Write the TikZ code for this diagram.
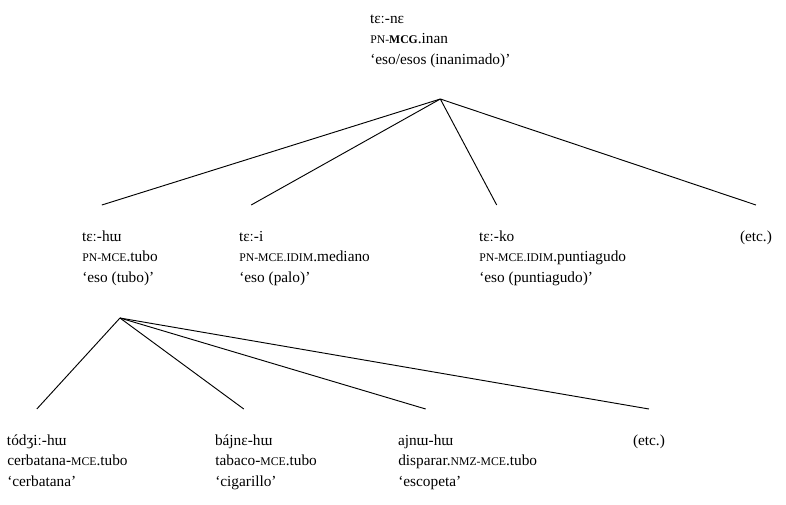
\documentclass[tikz,border=0pt]{standalone}
\usepackage{fontspec}
\setmainfont{Liberation Serif}
\usetikzlibrary{calc}
\newcommand{\gsc}[1]{{\fontsize{8.8}{8.8}\selectfont #1}}
\newcommand{\gscb}[1]{{\fontsize{8.8}{8.8}\selectfont\bfseries #1}}

\begin{document}
\begin{tikzpicture}[x=0.75pt, y=-0.75pt,
    txt/.style={anchor=base west, inner sep=0pt, font=\fontsize{11.5}{13}\selectfont},
    word/.style={txt, text height=8pt, text depth=2pt, outer xsep=0pt, outer ysep=19pt},
    branch/.style={line width=0.7pt}]
    \useasboundingbox (0,0) rectangle (786,504);

    % mother
    \node [word] (tene) at (370,23) {tɛː-nɛ};
    \node [txt] (tene-g) at (370,43.5) {\gsc{PN-}\gscb{MCG}.inan};
    \node [txt] (tene-t) at (370,64) {‘eso/esos (inanimado)’};
    \coordinate (tene-b) at ($(tene-t.base)+(0,35)$);

    % daughters
    \node [word] (teho) at (82,241) {tɛː-hɯ};
    \node [txt] (teho-g) at (82,261.5) {\gsc{PN-MCE}.tubo};
    \node [txt] (teho-t) at (82,282) {‘eso (tubo)’};
    \coordinate (teho-b) at ($(teho-g.base |- teho-t.base)+(0,36)$);

    \node [word] (tei) at (239,241) {tɛː-i};
    \node [txt] (tei-g) at (239,261.5) {\gsc{PN-MCE.IDIM}.mediano};
    \node [txt] (tei-t) at (239,282) {‘eso (palo)’};

    \node [word] (teko) at (479,241) {tɛː-ko};
    \node [txt] (teko-g) at (479,261.5) {\gsc{PN-MCE.IDIM}.puntiagudo};
    \node [txt] (teko-t) at (479,282) {‘eso (puntiagudo)’};

    \node [word] (etca) at (740,241) {(etc.)};

    % granddaughters
    \node [word] (todz) at (7,445) {tódʒiː-hɯ};
    \node [txt] (todz-g) at (7,465.5) {cerbatana-\gsc{MCE}.tubo};
    \node [txt] (todz-t) at (7,486) {‘cerbatana’};

    \node [word] (bajne) at (215,445) {bájnɛ-hɯ};
    \node [txt] (bajne-g) at (215,465.5) {tabaco-\gsc{MCE}.tubo};
    \node [txt] (bajne-t) at (215,486) {‘cigarillo’};

    \node [word] (ajnu) at (398,445) {ajnɯ-hɯ};
    \node [txt] (ajnu-g) at (398,465.5) {disparar.\gsc{NMZ-MCE}.tubo};
    \node [txt] (ajnu-t) at (398,486) {‘escopeta’};

    \node [word] (etcb) at (633,445) {(etc.)};

    % branches
    \foreach \n in {teho,tei,teko,etca}
        \draw [branch] (tene-b) -- (\n.north);
    \foreach \n in {todz,bajne,ajnu,etcb}
        \draw [branch] (teho-b) -- (\n.north);
\end{tikzpicture}
\end{document}
